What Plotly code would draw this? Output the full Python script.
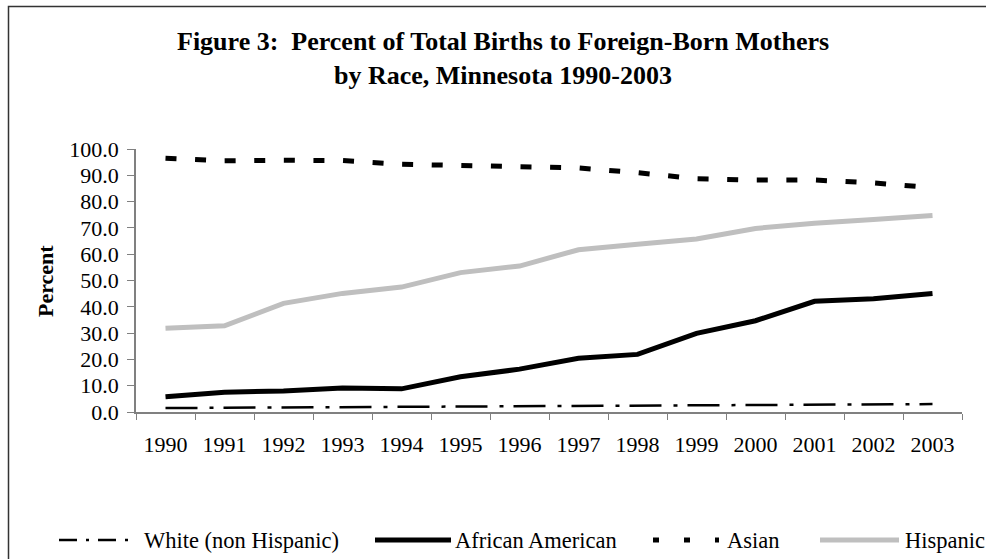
import plotly.graph_objects as go

years = ["1990", "1991", "1992", "1993", "1994", "1995", "1996",
         "1997", "1998", "1999", "2000", "2001", "2002", "2003"]
white = [1.5, 1.6, 1.7, 1.8, 1.9, 2.0, 2.1, 2.3, 2.4, 2.5, 2.6, 2.7, 2.9, 3.0]
african_american = [5.8, 7.5, 8.0, 9.1, 8.8, 13.4, 16.3, 20.4, 21.9, 29.9, 34.7, 42.1, 43.1, 45.1]
asian = [96.5, 95.5, 95.7, 95.6, 94.2, 93.8, 93.6, 92.8, 91.0, 88.7, 88.2, 88.2, 87.1, 85.3]
hispanic = [31.8, 32.8, 41.3, 45.1, 47.5, 53.0, 55.5, 61.7, 63.8, 65.8, 69.8, 71.8, 73.2, 74.7]
y_ticks = [0, 10, 20, 30, 40, 50, 60, 70, 80, 90, 100]

title_line1 = "Figure 3:\u00a0 Percent of Total Births to Foreign-Born Mothers"
title_line2 = "by Race, Minnesota 1990-2003"
y_title = "Percent"

FONT = "Liberation Serif, Times New Roman, serif"
W, H = 986, 559
PL, PT, PR, PB = 136, 149, 962, 412   # plot area in pixels
PW, PH = PR - PL, PB - PT
L, T, R, B = PL, PT, W - PR, H - PB


def px_x(x):
    return (x - PL) / PW


def px_y(y):
    return (PB - y) / PH


series = [
    ("White (non Hispanic)", white, dict(color="black", width=2.5, dash="32px,12px,4px,10px"),
     dict(width=2.5, dash="18px,9px,3px,9px"), 59, 137, 142),
    ("African American", african_american, dict(color="black", width=5),
     dict(width=5), 375, 451, 453),
    ("Asian", asian, dict(color="black", width=5, dash="11px,18.6px"),
     dict(width=5, dash="6px,25px"), 653, 719, 725),
    ("Hispanic", hispanic, dict(color="#BFBFBF", width=5),
     dict(width=5), 820, 899, 903),
]

fig = go.Figure()
for name, vals, line, _, _, _, _ in series:
    fig.add_trace(go.Scatter(x=years, y=vals, mode="lines", name=name, line=line,
                             showlegend=False, hoverinfo="x+y+name"))

shapes = []
annotations = []
LEG_Y = 540
for name, vals, line, leg_line, x0, x1, tx in series:
    shapes.append(dict(type="line", xref="paper", yref="paper",
                       x0=px_x(x0), x1=px_x(x1), y0=px_y(LEG_Y), y1=px_y(LEG_Y),
                       line=dict(color=line["color"], **leg_line)))
    annotations.append(dict(text=name, xref="paper", yref="paper", x=px_x(tx), y=px_y(LEG_Y),
                            xanchor="left", yanchor="middle", showarrow=False,
                            font=dict(family=FONT, size=22.5, color="black")))

# outer chart frame (right and bottom edges lie outside the picture)
shapes.append(dict(type="rect", xref="paper", yref="paper",
                   x0=px_x(8.5), x1=px_x(1030), y0=px_y(600), y1=px_y(6.5),
                   line=dict(color="#333333", width=1.5), fillcolor="rgba(0,0,0,0)"))

annotations += [
    dict(text="<b>" + title_line1 + "</b>", xref="paper", yref="paper",
         x=px_x(503), y=px_y(42), xanchor="center", yanchor="middle", showarrow=False,
         font=dict(family=FONT, size=26, color="black")),
    dict(text="<b>" + title_line2 + "</b>", xref="paper", yref="paper",
         x=px_x(503), y=px_y(75), xanchor="center", yanchor="middle", showarrow=False,
         font=dict(family=FONT, size=26, color="black")),
    dict(text="<b>" + y_title + "</b>", xref="paper", yref="paper",
         x=px_x(45), y=px_y(281), xanchor="center", yanchor="middle", showarrow=False,
         textangle=-90, font=dict(family=FONT, size=22, color="black")),
]

fig.update_layout(
    width=W, height=H,
    margin=dict(l=L, r=R, t=T, b=B, autoexpand=False),
    paper_bgcolor="white", plot_bgcolor="white",
    showlegend=False,
    shapes=shapes, annotations=annotations,
    font=dict(family=FONT, size=22, color="black"),
)
fig.update_xaxes(type="category", range=[-0.5, len(years) - 0.5],
                 tickson="boundaries", ticks="outside", ticklen=6, tickcolor="#808080",
                 showline=True, linecolor="#808080", linewidth=1.5,
                 showgrid=False, zeroline=False, ticklabelstandoff=12,
                 tickfont=dict(family=FONT, size=22, color="black"))
fig.update_yaxes(range=[0, 100], tickvals=y_ticks, tickformat=".1f",
                 ticks="outside", ticklen=7, tickcolor="#808080",
                 showline=True, linecolor="#808080", linewidth=1.5,
                 showgrid=False, zeroline=False, ticklabelstandoff=4,
                 tickfont=dict(family=FONT, size=22, color="black"))

fig.write_html("out.html",
               config={"displayModeBar": False},
               post_script="document.body.style.margin='0';"
                           "document.body.style.overflow='hidden';")
